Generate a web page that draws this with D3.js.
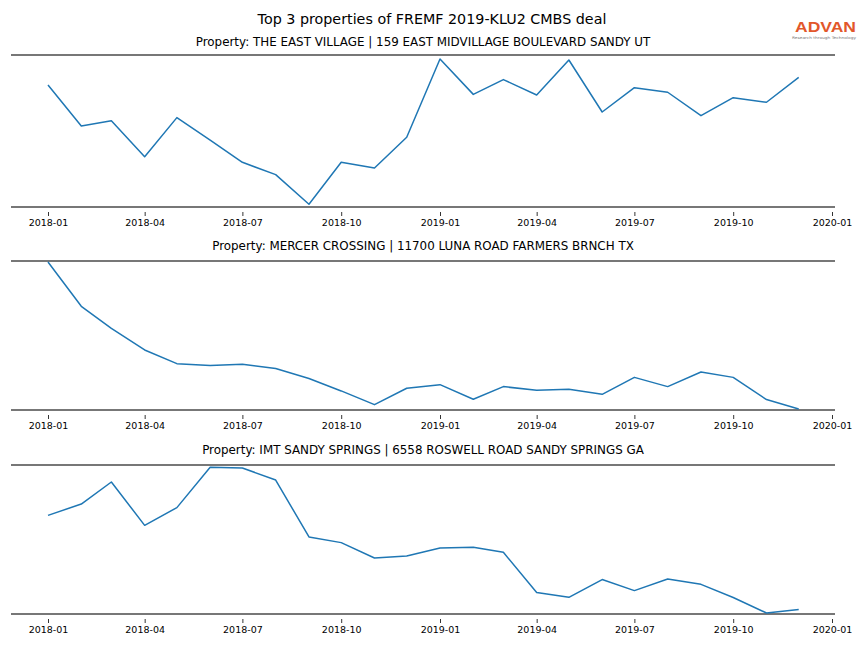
<!DOCTYPE html>
<html>
<head>
<meta charset="utf-8">
<script src="https://cdn.jsdelivr.net/npm/d3@7"></script>
<style>
  body { margin: 0; background: #fff; }
  svg { display: block; font-family: "DejaVu Sans", sans-serif; }
</style>
</head>
<body>
<svg id="chart" width="864" height="648"></svg>
<script>
// ---- data ----
const months = ["2018-01","2018-02","2018-03","2018-04","2018-05","2018-06","2018-07","2018-08","2018-09","2018-10","2018-11","2018-12",
                "2019-01","2019-02","2019-03","2019-04","2019-05","2019-06","2019-07","2019-08","2019-09","2019-10","2019-11","2019-12"];
const tickLabels = ["2018-01","2018-04","2018-07","2018-10","2019-01","2019-04","2019-07","2019-10","2020-01"];
const titles = [
  "Property: THE EAST VILLAGE | 159 EAST MIDVILLAGE BOULEVARD SANDY UT",
  "Property: MERCER CROSSING | 11700 LUNA ROAD FARMERS BRNCH TX",
  "Property: IMT SANDY SPRINGS | 6558 ROSWELL ROAD SANDY SPRINGS GA"
];
const eastVillage = [80.3,53.3,56.8,33.1,58.8,44.0,29.4,21.3,1.8,29.4,25.7,45.9,
                     97.4,74.1,83.8,73.7,96.7,62.5,78.5,75.5,60.1,71.9,68.9,85.3];
const mercerCrossing = [99.3,69.6,54.8,40.3,31.1,29.8,30.7,27.8,21.1,12.8,3.6,14.6,
                        17.0,7.2,15.7,13.2,13.9,10.5,21.9,15.7,25.5,21.9,7.0,0.7];
const imtSandySprings = [66.2,73.8,88.6,59.5,71.4,98.5,98.0,89.9,51.7,47.9,37.6,38.9,
                         44.3,44.8,41.4,14.4,11.2,23.1,15.7,23.5,19.9,11.1,0.7,3.0];
const seriesList = [eastVillage, mercerCrossing, imtSandySprings];

// ---- layout ----
const svg = d3.select("#chart");
const parse = d3.timeParse("%Y-%m");
const dates = months.map(parse);
const tickDates = tickLabels.map(parse);

const x = d3.scaleTime().range([11, 835]);
(function () {
  const t0 = parse("2018-01").getTime(), t1 = parse("2020-01").getTime();
  const k = (832 - 48) / (t1 - t0);
  x.domain([new Date(t0 - (48 - 11) / k), new Date(t1 + (835 - 832) / k)]);
})();

const panels = [
  { top: 55, bottom: 207, titleY: 46 },
  { top: 261, bottom: 410, titleY: 250 },
  { top: 465, bottom: 614, titleY: 454 }
];

svg.append("text")
  .attr("x", 432).attr("y", 24)
  .attr("text-anchor", "middle")
  .attr("font-size", 14.3)
  .attr("fill", "#000")
  .text("Top 3 properties of FREMF 2019-KLU2 CMBS deal");

// logo
const logo = svg.append("g");
logo.append("text")
  .attr("x", 795).attr("y", 32)
  .attr("font-family", "Liberation Sans, Arial, sans-serif")
  .attr("font-size", 14)
  .attr("font-weight", "bold")
  .attr("fill", "#e2572b")
  .attr("textLength", 61)
  .attr("lengthAdjust", "spacingAndGlyphs")
  .text("ADVAN");
logo.append("text")
  .attr("x", 792).attr("y", 39)
  .attr("font-size", 3.6)
  .attr("fill", "#777")
  .attr("textLength", 64)
  .attr("lengthAdjust", "spacingAndGlyphs")
  .text("Research through Technology");

panels.forEach((p, i) => {
  const y = d3.scaleLinear().domain([0, 100]).range([p.bottom, p.top]);
  const g = svg.append("g");

  g.append("text")
    .attr("x", 423).attr("y", p.titleY)
    .attr("text-anchor", "middle")
    .attr("font-size", 11.9)
    .attr("fill", "#000")
    .text(titles[i]);

  // spines
  [p.top, p.bottom].forEach(yy => {
    g.append("line")
      .attr("x1", 11).attr("x2", 835)
      .attr("y1", yy).attr("y2", yy)
      .attr("stroke", "#4a4a4a").attr("stroke-width", 1.6);
  });

  // x axis
  const axis = d3.axisBottom(x)
    .tickValues(tickDates)
    .tickFormat(d3.timeFormat("%Y-%m"))
    .tickSize(4)
    .tickPadding(3);
  const ag = g.append("g")
    .attr("transform", `translate(0,${p.bottom + 5})`)
    .call(axis);
  ag.select(".domain").remove();
  ag.selectAll(".tick line").attr("stroke", "#000").attr("stroke-width", 0.8);
  ag.selectAll(".tick text")
    .attr("font-family", "DejaVu Sans, sans-serif")
    .attr("font-size", 9.5)
    .attr("fill", "#000");

  const line = d3.line()
    .x((d, j) => x(dates[j]))
    .y(d => y(d));
  g.append("path")
    .datum(seriesList[i])
    .attr("d", line)
    .attr("fill", "none")
    .attr("stroke", "#1f77b4")
    .attr("stroke-width", 1.5)
    .attr("stroke-linejoin", "round");
});
</script>
</body>
</html>
